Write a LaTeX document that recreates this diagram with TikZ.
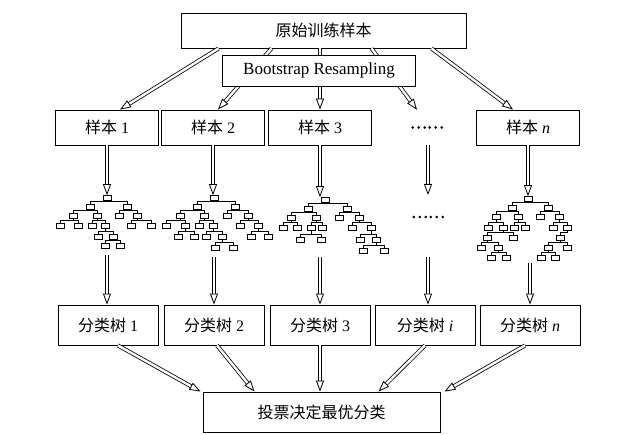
\documentclass[tikz,border=0pt]{standalone}
\usepackage{fontspec}
\setmainfont{Liberation Serif}
\newfontfamily\cjk{Noto Sans CJK SC}
\newfontfamily\cjkdots[FakeBold=2.5]{Noto Sans CJK SC}
\usetikzlibrary{
  arrows.meta,%
  calc,%
  positioning
}
\tikzset{>=latex}
\tikzset{
  box/.style={draw, line width=0.9pt, fill=white, inner sep=0pt,
    font=\fontsize{16}{18}\selectfont},
  hollow/.style={double, double distance=2.4pt, line width=0.8pt,
    -{Triangle[open, length=11pt, width=8pt, line width=0.8pt]}},
  leaf/.style={draw, line width=0.6pt, minimum width=8pt, minimum height=5pt,
    inner sep=0pt},
  fork/.style={line width=0.6pt}
}

\begin{document}
\begin{tikzpicture}[x=1pt, y=1pt]
  \useasboundingbox (0,0) rectangle (622,-435);
  % training set and bootstrap samples
  \node[box, minimum width=285pt, minimum height=35pt] (train) at (323.5,-30.5) {\cjk 原始训练样本};
  \node[box, minimum width=103pt, minimum height=35pt] (s1) at (107,-127.5) {{\cjk 样本} 1};
  \node[box, minimum width=103pt, minimum height=35pt] (s2) at (213,-127.5) {{\cjk 样本} 2};
  \node[box, minimum width=103pt, minimum height=35pt] (s3) at (320,-127.5) {{\cjk 样本} 3};
  \node[font=\fontsize{16}{18}\selectfont, minimum height=35pt, inner sep=0pt] (sdots) at (427,-127.5) {\cjkdots ……};
  \node[box, minimum width=103pt, minimum height=35pt] (sn) at (528,-127.5) {{\cjk 样本} \textit{n}};
  \draw[hollow] ([xshift=-105pt]train.south) -- ([xshift=13pt]s1.north);
  \draw[hollow] ([xshift=-52pt]train.south) -- ([xshift=5pt]s2.north);
  \draw[hollow] (train.south -| s3.north) -- (s3.north);
  \draw[hollow] ([xshift=48pt]train.south) -- ([xshift=-10pt]sdots.north);
  \draw[hollow] ([xshift=108pt]train.south) -- ([xshift=-15pt]sn.north);
  \node[box, minimum width=193pt, minimum height=31pt, font=\fontsize{17}{19}\selectfont] (boot) at (319,-70.5) {Bootstrap Resampling};

  % tree 1
  \foreach \n/\x/\y in {t1/107/198, t1a/90/207, t1b/127/207,
      t1aa/73/216, t1ab/97/216, t1ba/119/216, t1bb/137/216,
      t1aaa/60/226, t1aab/78/226, t1aba/92/226, t1abb/105/226, t1bba/131/226, t1bbb/151/226,
      t1abba/98/237, t1abbb/113/237, t1abbba/105/246, t1abbbb/120/246}
    \node[leaf] (\n) at (\x,-\y) {};
  \foreach \p/\c in {t1/t1a, t1/t1b, t1a/t1aa, t1a/t1ab, t1b/t1ba, t1b/t1bb,
      t1aa/t1aaa, t1aa/t1aab, t1ab/t1aba, t1ab/t1abb, t1bb/t1bba, t1bb/t1bbb,
      t1abb/t1abba, t1abb/t1abbb, t1abbb/t1abbba, t1abbb/t1abbbb}
    \draw[fork] (\p.south) |- ([yshift=2.5pt]\c.north) -- (\c.north);

  % tree 2
  \foreach \n/\x/\y in {t2/214/198, t2a/197/207, t2b/235/207,
      t2aa/180/216, t2ab/204/216, t2ba/227/216, t2bb/248/216,
      t2aaa/166/226, t2aab/185/226, t2aba/199/226, t2abb/213/226, t2bba/240/226, t2bbb/258/226,
      t2aaba/178/237, t2aabb/194/237, t2abba/206/237, t2abbb/222/237, t2bbba/251/237, t2bbbb/268/237,
      t2abbba/215/248, t2abbbb/233/248}
    \node[leaf] (\n) at (\x,-\y) {};
  \foreach \p/\c in {t2/t2a, t2/t2b, t2a/t2aa, t2a/t2ab, t2b/t2ba, t2b/t2bb,
      t2aa/t2aaa, t2aa/t2aab, t2ab/t2aba, t2ab/t2abb, t2bb/t2bba, t2bb/t2bbb,
      t2aab/t2aaba, t2aab/t2aabb, t2abb/t2abba, t2abb/t2abbb, t2bbb/t2bbba, t2bbb/t2bbbb,
      t2abbb/t2abbba, t2abbb/t2abbbb}
    \draw[fork] (\p.south) |- ([yshift=2.5pt]\c.north) -- (\c.north);

  % tree 3
  \foreach \n/\x/\y in {t3/325/200, t3a/308/209, t3b/347/209,
      t3aa/291/218, t3ab/316/218, t3ba/339/218, t3bb/359/218,
      t3aaa/283/228, t3aab/297/228, t3aba/311/228, t3abb/322/228, t3bba/352/228, t3bbb/371/228,
      t3abaa/300/240, t3abab/321/240, t3bbba/360/240, t3bbbb/376/240,
      t3bbbba/363/251, t3bbbbb/384/251}
    \node[leaf] (\n) at (\x,-\y) {};
  \foreach \p/\c in {t3/t3a, t3/t3b, t3a/t3aa, t3a/t3ab, t3b/t3ba, t3b/t3bb,
      t3aa/t3aaa, t3aa/t3aab, t3ab/t3aba, t3ab/t3abb, t3bb/t3bba, t3bb/t3bbb,
      t3aba/t3abaa, t3aba/t3abab, t3bbb/t3bbba, t3bbb/t3bbbb,
      t3bbbb/t3bbbba, t3bbbb/t3bbbbb}
    \draw[fork] (\p.south) |- ([yshift=2.5pt]\c.north) -- (\c.north);

  % tree n
  \foreach \n/\x/\y in {tn/528/199, tna/512/208, tnb/548/208,
      tnaa/496/217, tnab/518/217, tnba/540/217, tnbb/559/217,
      tnaaa/488/228, tnaab/503/228, tnaba/514/228, tnabb/525/228, tnbba/553/228, tnbbb/567/228,
      tnaaba/487/238, tnaabb/513/238, tnbbba/560/238,
      tnaabaa/481/248, tnaabab/498/248, tnbbbaa/548/248, tnbbbab/567/248,
      tnaababa/491/258, tnaababb/506/258, tnbbbaaa/541/258, tnbbbaab/555/258}
    \node[leaf] (\n) at (\x,-\y) {};
  \foreach \p/\c in {tn/tna, tn/tnb, tna/tnaa, tna/tnab, tnb/tnba, tnb/tnbb,
      tnaa/tnaaa, tnaa/tnaab, tnab/tnaba, tnab/tnabb, tnbb/tnbba, tnbb/tnbbb,
      tnaab/tnaaba, tnaab/tnaabb, tnbbb/tnbbba,
      tnaaba/tnaabaa, tnaaba/tnaabab, tnbbba/tnbbbaa, tnbbba/tnbbbab,
      tnaabab/tnaababa, tnaabab/tnaababb, tnbbbaa/tnbbbaaa, tnbbbaa/tnbbbaab}
    \draw[fork] (\p.south) |- ([yshift=2.5pt]\c.north) -- (\c.north);

  \node[font=\fontsize{16}{18}\selectfont, inner sep=0pt] (tdots) at (428,-217) {\cjkdots ……};
  \coordinate (d4) at (428,-195);
  \draw[hollow] (s1.south) -- (s1.south |- t1.north);
  \draw[hollow] (s2.south) -- (s2.south |- t2.north);
  \draw[hollow] (s3.south) -- (s3.south |- t3.north);
  \draw[hollow] (sdots.south -| d4) -- (d4);
  \draw[hollow] (sn.south) -- (sn.south |- tn.north);

  % classification trees and vote
  \node[box, minimum width=100pt, minimum height=40pt] (c1) at (108,-325) {{\cjk 分类树} 1};
  \node[box, minimum width=100pt, minimum height=40pt] (c2) at (214,-325) {{\cjk 分类树} 2};
  \node[box, minimum width=100pt, minimum height=40pt] (c3) at (320,-325) {{\cjk 分类树} 3};
  \node[box, minimum width=100pt, minimum height=40pt] (ci) at (425,-325) {{\cjk 分类树} \textit{i}};
  \node[box, minimum width=100pt, minimum height=40pt] (cn) at (530,-325) {{\cjk 分类树} \textit{n}};
  \node[box, minimum width=237pt, minimum height=40pt] (vote) at (321.5,-412) {\cjk 投票决定最优分类};

  \coordinate (b1) at (107,-255);
  \coordinate (b2) at (214,-257);
  \coordinate (b3) at (320,-257);
  \coordinate (b4) at (428,-257);
  \coordinate (bn) at (530,-263);
  \draw[hollow] (b1) -- (b1 |- c1.north);
  \draw[hollow] (b2) -- (b2 |- c2.north);
  \draw[hollow] (b3) -- (b3 |- c3.north);
  \draw[hollow] (b4) -- (b4 |- ci.north);
  \draw[hollow] (bn) -- (bn |- cn.north);

  \draw[hollow] ([xshift=10pt]c1.south) -- ([xshift=-121pt]vote.north);
  \draw[hollow] ([xshift=3pt]c2.south) -- ([xshift=-67pt]vote.north);
  \draw[hollow] (c3.south) -- (vote.north -| c3.south);
  \draw[hollow] (ci.south) -- ([xshift=57pt]vote.north);
  \draw[hollow] ([xshift=-5pt]cn.south) -- ([xshift=123pt]vote.north);
\end{tikzpicture}
\end{document}
